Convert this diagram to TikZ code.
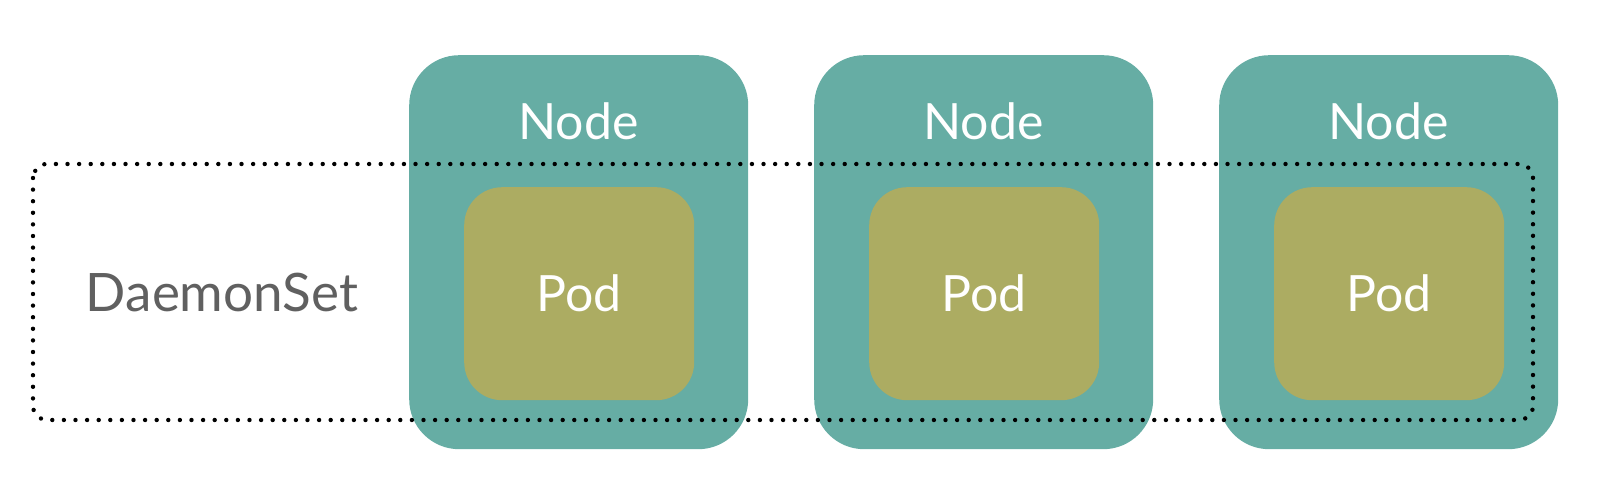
\documentclass[tikz,border=0pt]{standalone}
\usepackage{fontspec}
\setmainfont{Lato}
\definecolor{teal1}{RGB}{102,173,164}
\definecolor{olive1}{RGB}{172,172,98}
\definecolor{grey1}{RGB}{96,96,96}
\begin{document}
\begin{tikzpicture}[x=1pt,y=-1pt,
  nodebox/.style={fill=teal1,rounded corners=50pt,minimum width=339pt,minimum height=394pt,inner sep=0pt,anchor=north west},
  podbox/.style={fill=olive1,rounded corners=38pt,minimum width=230pt,minimum height=213pt,inner sep=0pt,anchor=north west},
  whitetext/.style={text=white,font=\fontsize{50}{60}\selectfont,inner sep=0pt},
  dsbox/.style={draw=black,line width=4.4pt,line cap=round,dash pattern=on 0pt off 11.6pt,rounded corners=14pt}
]
\useasboundingbox (0,0) rectangle (1600,479);
\foreach \i/\x in {1/409,2/814,3/1219}{
  \node[nodebox] (n\i) at (\x,55) {};
  \node[whitetext] (nt\i) at (\x+169.5,121) {Node};
  \node[podbox] (p\i) at (\x+55,187) {};
  \node[whitetext] (pt\i) at (p\i.center) {Pod};
}
\node[text=grey1,font=\fontsize{53}{64}\selectfont,inner sep=0pt] (dst) at (222,293) {DaemonSet};
\coordinate (dsa) at (33,164);
\coordinate (dsb) at (1533,420);
\draw[dsbox] (dsa) rectangle (dsb);
\end{tikzpicture}
\end{document}
